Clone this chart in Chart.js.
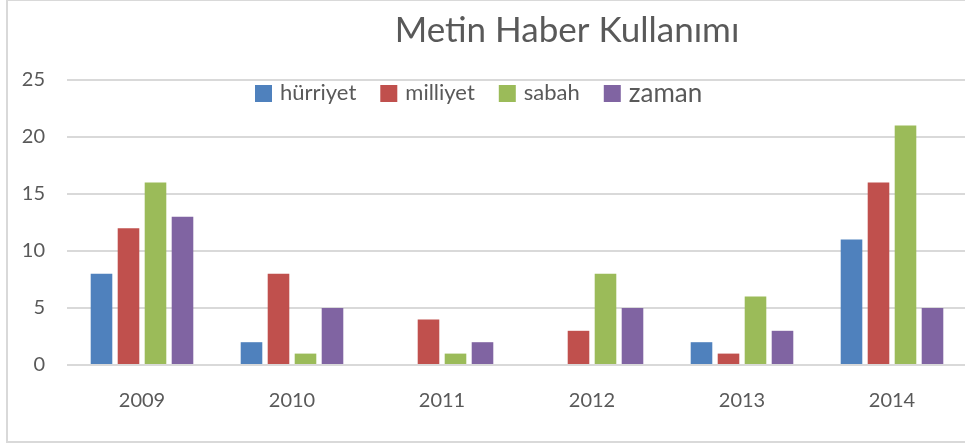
<!DOCTYPE html>
<html>
<head>
<meta charset="utf-8">
<script src="https://cdn.jsdelivr.net/npm/chart.js@4.4.1/dist/chart.umd.min.js"></script>
<style>
    html, body { margin: 0; padding: 0; background: #fff; overflow: hidden; }
    #wrap { position: relative; width: 965px; height: 445px; overflow: hidden; }
    #frame { position: absolute; left: 6px; top: -1px; width: 1000px; height: 444px; border: 2px solid #d9d9d9; border-right: none; box-sizing: border-box; pointer-events: none; }
    #box { position: absolute; left: 0; top: 0; width: 967px; height: 445px; }
</style>
</head>
<body>
<div id="wrap">
    <div id="box"><canvas id="haberChart" width="967" height="445"></canvas></div>
    <div id="frame"></div>
</div>
<script>

/* =========================
   DATA
========================= */

const chartTitle = 'Metin Haber Kullanımı';

const years = ['2009', '2010', '2011', '2012', '2013', '2014'];

const hurriyet = [8, 2, 0, 0, 2, 11];
const milliyet = [12, 8, 4, 3, 1, 16];
const sabah = [16, 1, 1, 8, 6, 21];
const zaman = [13, 5, 2, 5, 3, 5];

const seriesNames = ['hürriyet', 'milliyet', 'sabah', 'zaman'];
const seriesColors = ['#4f81bd', '#c0504d', '#9bbb59', '#8064a2'];

const yTicks = [0, 5, 10, 15, 20, 25];

const textColor = '#595959';
const fontName = 'Lato, "Liberation Sans", sans-serif';

/* =========================
   TITLE + LEGEND PLUGIN
========================= */

const headerPlugin = {
    id: 'header',
    afterDraw(chart) {
        const ctx = chart.ctx;
        ctx.save();

        // title
        ctx.fillStyle = textColor;
        ctx.font = '35px ' + fontName;
        ctx.textAlign = 'center';
        ctx.textBaseline = 'middle';
        ctx.fillText(chartTitle, 567, 31);

        // legend (the last entry is bigger in the original)
        let x = 255;
        const y = 93;
        chart.data.datasets.forEach((ds, i) => {
            ctx.fillStyle = ds.backgroundColor;
            ctx.fillRect(x, y - 8, 17, 17);
            x += 17 + 8;
            ctx.fillStyle = textColor;
            ctx.font = (i === 3 ? '26px ' : '22px ') + fontName;
            ctx.textAlign = 'left';
            ctx.textBaseline = 'middle';
            ctx.fillText(ds.label, x, y + (i === 3 ? 1 : 0));
            x += ctx.measureText(ds.label).width + 24;
        });

        ctx.restore();
    }
};

/* =========================
   CHART
========================= */

const ctx = document.getElementById('haberChart');

new Chart(ctx, {

    type: 'bar',

    data: {
        labels: years,
        datasets: [hurriyet, milliyet, sabah, zaman].map((values, i) => ({
            label: seriesNames[i],
            data: values,
            backgroundColor: seriesColors[i],
            borderWidth: 0,
            categoryPercentage: 0.72,
            barPercentage: 0.8
        }))
    },

    options: {
        responsive: false,
        animation: false,
        devicePixelRatio: 1,
        layout: {
            padding: { top: 80, left: 0, right: 0, bottom: 0 }
        },
        plugins: {
            legend: { display: false },
            title: { display: false },
            tooltip: { enabled: false }
        },
        scales: {
            x: {
                grid: { display: false },
                border: { display: false },
                ticks: {
                    color: textColor,
                    font: { family: fontName, size: 20 },
                    padding: 16,
                    autoSkip: false,
                    maxRotation: 0
                },
                afterFit(scale) { scale.height = 80; }
            },
            y: {
                min: 0,
                max: 25,
                afterBuildTicks(scale) {
                    scale.ticks = yTicks.map(v => ({ value: v }));
                },
                grid: {
                    color: '#d9d9d9',
                    lineWidth: 2,
                    drawTicks: false
                },
                border: { display: false },
                ticks: {
                    color: textColor,
                    font: { family: fontName, size: 20 },
                    padding: 22
                },
                afterFit(scale) { scale.width = 67; }
            }
        }
    },

    plugins: [headerPlugin]

});

</script>
</body>
</html>
